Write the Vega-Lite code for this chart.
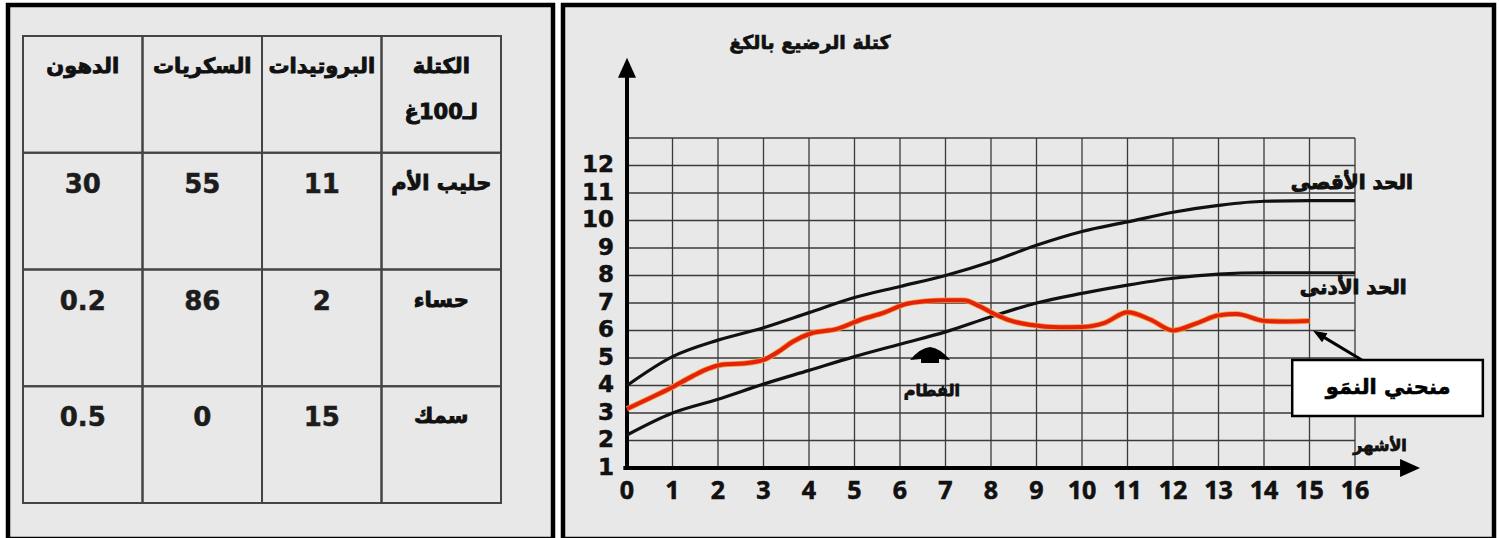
{
  "$schema": "https://vega.github.io/schema/vega-lite/v6.json",
  "background": "#ffffff",
  "padding": {"left": 5, "top": 2, "right": 5, "bottom": 2},
  "spacing": 4,
  "config": {"view": {"stroke": "#000000", "strokeWidth": 4.5, "fill": "#e8e8e8"}},
  "datasets": {
    "table": [
      {"r": "header", "c": "الدهون", "text": "الدهون"},
      {"r": "header", "c": "السكريات", "text": "السكريات"},
      {"r": "header", "c": "البروتيدات", "text": "البروتيدات"},
      {"r": "header", "c": "الغذاء", "text": "الكتلة\nلـ100غ"},
      {"r": "حليب الأم", "c": "الدهون", "text": "30"},
      {"r": "حليب الأم", "c": "السكريات", "text": "55"},
      {"r": "حليب الأم", "c": "البروتيدات", "text": "11"},
      {"r": "حليب الأم", "c": "الغذاء", "text": "حليب الأم"},
      {"r": "حساء", "c": "الدهون", "text": "0.2"},
      {"r": "حساء", "c": "السكريات", "text": "86"},
      {"r": "حساء", "c": "البروتيدات", "text": "2"},
      {"r": "حساء", "c": "الغذاء", "text": "حساء"},
      {"r": "سمك", "c": "الدهون", "text": "0.5"},
      {"r": "سمك", "c": "السكريات", "text": "0"},
      {"r": "سمك", "c": "البروتيدات", "text": "15"},
      {"r": "سمك", "c": "الغذاء", "text": "سمك"}
    ],
    "growth": [
      {"month": 0, "kg": 3.15}, {"month": 0.45, "kg": 3.5}, {"month": 0.95, "kg": 3.9},
      {"month": 1.45, "kg": 4.35}, {"month": 1.8, "kg": 4.62}, {"month": 2.1, "kg": 4.76},
      {"month": 2.55, "kg": 4.8}, {"month": 3.0, "kg": 4.93}, {"month": 3.3, "kg": 5.2},
      {"month": 3.65, "kg": 5.6}, {"month": 4.05, "kg": 5.9}, {"month": 4.6, "kg": 6.05},
      {"month": 5.15, "kg": 6.4}, {"month": 5.65, "kg": 6.65}, {"month": 6.1, "kg": 6.95},
      {"month": 6.6, "kg": 7.07}, {"month": 7.0, "kg": 7.1}, {"month": 7.4, "kg": 7.1},
      {"month": 7.75, "kg": 6.88}, {"month": 8.05, "kg": 6.62}, {"month": 8.45, "kg": 6.35},
      {"month": 8.9, "kg": 6.2}, {"month": 9.5, "kg": 6.12}, {"month": 10.0, "kg": 6.13},
      {"month": 10.5, "kg": 6.28}, {"month": 11.0, "kg": 6.66}, {"month": 11.5, "kg": 6.4},
      {"month": 12.0, "kg": 6.0}, {"month": 12.5, "kg": 6.25}, {"month": 13.0, "kg": 6.55},
      {"month": 13.4, "kg": 6.6}, {"month": 14.0, "kg": 6.35}, {"month": 14.5, "kg": 6.33},
      {"month": 15.0, "kg": 6.35}
    ],
    "limits": [
      {"series": "max", "month": 0, "kg": 4.0}, {"series": "max", "month": 1, "kg": 5.05},
      {"series": "max", "month": 2, "kg": 5.65}, {"series": "max", "month": 3, "kg": 6.1},
      {"series": "max", "month": 4, "kg": 6.65}, {"series": "max", "month": 5, "kg": 7.2},
      {"series": "max", "month": 6, "kg": 7.6}, {"series": "max", "month": 7, "kg": 8.0},
      {"series": "max", "month": 8, "kg": 8.5}, {"series": "max", "month": 9, "kg": 9.1},
      {"series": "max", "month": 10, "kg": 9.6}, {"series": "max", "month": 11, "kg": 9.95},
      {"series": "max", "month": 12, "kg": 10.3}, {"series": "max", "month": 13, "kg": 10.55},
      {"series": "max", "month": 14, "kg": 10.7}, {"series": "max", "month": 15, "kg": 10.72},
      {"series": "max", "month": 16, "kg": 10.72},
      {"series": "min", "month": 0, "kg": 2.2}, {"series": "min", "month": 1, "kg": 3.0},
      {"series": "min", "month": 2, "kg": 3.5}, {"series": "min", "month": 3, "kg": 4.05},
      {"series": "min", "month": 4, "kg": 4.55}, {"series": "min", "month": 5, "kg": 5.05},
      {"series": "min", "month": 6, "kg": 5.5}, {"series": "min", "month": 7, "kg": 5.95},
      {"series": "min", "month": 8, "kg": 6.5}, {"series": "min", "month": 9, "kg": 7.0},
      {"series": "min", "month": 10, "kg": 7.35}, {"series": "min", "month": 11, "kg": 7.65},
      {"series": "min", "month": 12, "kg": 7.9}, {"series": "min", "month": 13, "kg": 8.05},
      {"series": "min", "month": 14, "kg": 8.1}, {"series": "min", "month": 15, "kg": 8.1},
      {"series": "min", "month": 16, "kg": 8.1}
    ],
    "hgrid": [
      {"kg": 2}, {"kg": 3}, {"kg": 4}, {"kg": 5}, {"kg": 6}, {"kg": 7},
      {"kg": 8}, {"kg": 9}, {"kg": 10}, {"kg": 11}, {"kg": 12}, {"kg": 13}
    ],
    "vgrid": [
      {"month": 1}, {"month": 2}, {"month": 3}, {"month": 4}, {"month": 5}, {"month": 6},
      {"month": 7}, {"month": 8}, {"month": 9}, {"month": 10}, {"month": 11}, {"month": 12},
      {"month": 13}, {"month": 14}, {"month": 15}, {"month": 16}
    ],
    "xticks": [
      {"month": 0}, {"month": 1}, {"month": 2}, {"month": 3}, {"month": 4}, {"month": 5},
      {"month": 6}, {"month": 7}, {"month": 8}, {"month": 9}, {"month": 10}, {"month": 11},
      {"month": 12}, {"month": 13}, {"month": 14}, {"month": 15}, {"month": 16}
    ],
    "yticks": [
      {"kg": 1}, {"kg": 2}, {"kg": 3}, {"kg": 4}, {"kg": 5}, {"kg": 6},
      {"kg": 7}, {"kg": 8}, {"kg": 9}, {"kg": 10}, {"kg": 11}, {"kg": 12}
    ],
    "notes": [
      {"text": "كتلة الرضيع بالكغ", "month": 4.02, "kg": 16.45, "role": "title"},
      {"text": "الحد الأقصى", "month": 15.93, "kg": 11.36, "role": "limit"},
      {"text": "الحد الأدنى", "month": 15.96, "kg": 7.55, "role": "limit"},
      {"text": "الأشهر", "month": 16.55, "kg": 1.8, "role": "small"},
      {"text": "الفطام", "month": 6.7, "kg": 3.8, "role": "small"}
    ],
    "callout": [
      {"text": "منحني النمَو", "month": 16.73, "kg": 3.91}
    ]
  },
  "hconcat": [
    {
      "width": 545,
      "height": 534,
      "data": {"name": "table"},
      "layer": [
        {
          "mark": {"type": "rect", "filled": false, "stroke": "#454545", "strokeWidth": 2},
          "encoding": {
            "x": {"field": "c", "type": "nominal", "sort": ["الدهون", "السكريات", "البروتيدات", "الغذاء"], "scale": {"paddingInner": 0, "paddingOuter": 0.2803, "align": 0.224}, "axis": null},
            "y": {"field": "r", "type": "nominal", "sort": ["header", "حليب الأم", "حساء", "سمك"], "scale": {"paddingInner": 0, "paddingOuter": 0.2869, "align": 0.4627}, "axis": null}
          }
        },
        {
          "transform": [{"filter": "test(/^[0-9.]+$/, datum.text)"}],
          "mark": {"type": "text", "font": "DejaVu Sans", "fontWeight": "bold", "fontSize": 26, "baseline": "middle", "dy": 32, "fill": "#1c1c1c", "stroke": "#1c1c1c", "strokeWidth": 0.5},
          "encoding": {
            "x": {"field": "c", "type": "nominal", "sort": ["الدهون", "السكريات", "البروتيدات", "الغذاء"], "scale": {"paddingInner": 0, "paddingOuter": 0.2803, "align": 0.224}, "axis": null},
            "y": {"field": "r", "type": "nominal", "sort": ["header", "حليب الأم", "حساء", "سمك"], "scale": {"paddingInner": 0, "paddingOuter": 0.2869, "align": 0.4627}, "axis": null, "bandPosition": 0},
            "text": {"field": "text"}
          }
        },
        {
          "transform": [{"filter": "!test(/^[0-9.]+$/, datum.text)"}],
          "mark": {"type": "text", "font": "DejaVu Sans", "fontWeight": "bold", "fontSize": 21, "baseline": "top", "dy": 20, "lineBreak": "\n", "lineHeight": 46, "fill": "#111111", "stroke": "#111111", "strokeWidth": 0.9},
          "encoding": {
            "x": {"field": "c", "type": "nominal", "sort": ["الدهون", "السكريات", "البروتيدات", "الغذاء"], "scale": {"paddingInner": 0, "paddingOuter": 0.2803, "align": 0.224}, "axis": null},
            "y": {"field": "r", "type": "nominal", "sort": ["header", "حليب الأم", "حساء", "سمك"], "scale": {"paddingInner": 0, "paddingOuter": 0.2869, "align": 0.4627}, "axis": null, "bandPosition": 0},
            "text": {"field": "text"}
          }
        }
      ]
    },
    {
      "width": 931,
      "height": 534,
      "layer": [
        {
          "data": {"name": "hgrid"},
          "mark": {"type": "rule", "stroke": "#3a3a3a", "strokeWidth": 1.3},
          "encoding": {
            "y": {"field": "kg", "type": "quantitative", "axis": null},
            "x": {"datum": 0, "type": "quantitative", "axis": null},
            "x2": {"datum": 16}
          }
        },
        {
          "data": {"name": "vgrid"},
          "mark": {"type": "rule", "stroke": "#3a3a3a", "strokeWidth": 1.3},
          "encoding": {
            "x": {"field": "month", "type": "quantitative", "axis": null},
            "y": {"datum": 1, "type": "quantitative", "axis": null},
            "y2": {"datum": 13}
          }
        },
        {
          "data": {"values": [{}]},
          "mark": {"type": "rule", "stroke": "#000000", "strokeWidth": 4},
          "encoding": {
            "x": {"datum": 0, "type": "quantitative", "axis": null},
            "y": {"datum": 0.93, "type": "quantitative", "axis": null},
            "y2": {"datum": 15.3}
          }
        },
        {
          "data": {"values": [{}]},
          "mark": {"type": "rule", "stroke": "#000000", "strokeWidth": 4},
          "encoding": {
            "y": {"datum": 1, "type": "quantitative", "axis": null},
            "x": {"datum": -0.08, "type": "quantitative", "axis": null},
            "x2": {"datum": 17.0}
          }
        },
        {
          "data": {"values": [{}]},
          "mark": {"type": "point", "shape": "M0,-1L0.9,1L-0.9,1Z", "filled": true, "fill": "#000000", "size": 400, "opacity": 1, "strokeWidth": 0},
          "encoding": {
            "x": {"datum": 0, "type": "quantitative", "axis": null},
            "y": {"datum": 15.55, "type": "quantitative", "axis": null}
          }
        },
        {
          "data": {"values": [{}]},
          "mark": {"type": "point", "shape": "M1,0L-1,-0.9L-1,0.9Z", "filled": true, "fill": "#000000", "size": 400, "opacity": 1, "strokeWidth": 0},
          "encoding": {
            "x": {"datum": 17.21, "type": "quantitative", "axis": null},
            "y": {"datum": 1, "type": "quantitative", "axis": null}
          }
        },
        {
          "data": {"name": "xticks"},
          "mark": {"type": "text", "font": "Open Sans", "fontWeight": "bold", "fontSize": 25, "align": "center", "baseline": "middle", "dy": 23, "fill": "#111111", "stroke": "#111111", "strokeWidth": 0.6},
          "encoding": {
            "x": {"field": "month", "type": "quantitative", "axis": null},
            "y": {"datum": 1, "type": "quantitative", "axis": null},
            "text": {"field": "month", "type": "quantitative"}
          }
        },
        {
          "data": {"name": "yticks"},
          "mark": {"type": "text", "font": "DejaVu Sans", "fontWeight": "bold", "fontSize": 23, "align": "right", "baseline": "middle", "dx": -13, "fill": "#111111", "stroke": "#111111", "strokeWidth": 0.5},
          "encoding": {
            "x": {"datum": 0, "type": "quantitative", "axis": null},
            "y": {"field": "kg", "type": "quantitative", "axis": null},
            "text": {"field": "kg", "type": "quantitative"}
          }
        },
        {
          "data": {"name": "limits"},
          "mark": {"type": "line", "interpolate": "monotone", "stroke": "#111111", "strokeWidth": 3.2},
          "encoding": {
            "x": {"field": "month", "type": "quantitative", "axis": null},
            "y": {"field": "kg", "type": "quantitative", "axis": null},
            "detail": {"field": "series"}
          }
        },
        {
          "data": {"name": "growth"},
          "mark": {"type": "line", "interpolate": "monotone", "stroke": "#f49a2a", "strokeWidth": 5.6},
          "encoding": {
            "x": {"field": "month", "type": "quantitative", "axis": null},
            "y": {"field": "kg", "type": "quantitative", "axis": null}
          }
        },
        {
          "data": {"name": "growth"},
          "mark": {"type": "line", "interpolate": "monotone", "stroke": "#e4200f", "strokeWidth": 4},
          "encoding": {
            "x": {"field": "month", "type": "quantitative", "scale": {"domain": [-1.40659, 19.05495], "nice": false, "zero": false}, "axis": null},
            "y": {"field": "kg", "type": "quantitative", "scale": {"domain": [-1.58182, 17.83636], "nice": false, "zero": false}, "axis": null}
          }
        },
        {
          "data": {"name": "notes"},
          "transform": [{"filter": "datum.role === 'title'"}],
          "mark": {"type": "text", "font": "DejaVu Sans", "fontWeight": "bold", "fontSize": 19, "align": "center", "baseline": "middle", "fill": "#111111", "stroke": "#111111", "strokeWidth": 0.7},
          "encoding": {
            "x": {"field": "month", "type": "quantitative", "axis": null},
            "y": {"field": "kg", "type": "quantitative", "axis": null},
            "text": {"field": "text"}
          }
        },
        {
          "data": {"name": "notes"},
          "transform": [{"filter": "datum.role === 'limit'"}],
          "mark": {"type": "text", "font": "DejaVu Sans", "fontWeight": "bold", "fontSize": 20, "align": "center", "baseline": "middle", "fill": "#111111", "stroke": "#111111", "strokeWidth": 1},
          "encoding": {
            "x": {"field": "month", "type": "quantitative", "axis": null},
            "y": {"field": "kg", "type": "quantitative", "axis": null},
            "text": {"field": "text"}
          }
        },
        {
          "data": {"name": "notes"},
          "transform": [{"filter": "datum.role === 'small'"}],
          "mark": {"type": "text", "font": "DejaVu Sans", "fontWeight": "bold", "fontSize": 16, "align": "center", "baseline": "middle", "fill": "#111111", "stroke": "#111111", "strokeWidth": 0.8},
          "encoding": {
            "x": {"field": "month", "type": "quantitative", "axis": null},
            "y": {"field": "kg", "type": "quantitative", "axis": null},
            "text": {"field": "text"}
          }
        },
        {
          "data": {"values": [{}]},
          "mark": {"type": "point", "shape": "M-1,0.25Q-0.5,-0.35 0,-0.4Q0.5,-0.35 1,0.25L0.45,0.2L0.45,0.4L-0.45,0.4L-0.45,0.2Z", "filled": true, "fill": "#000000", "size": 1600, "opacity": 1, "strokeWidth": 0},
          "encoding": {
            "x": {"datum": 6.66, "type": "quantitative", "axis": null},
            "y": {"datum": 5.11, "type": "quantitative", "axis": null}
          }
        },
        {
          "data": {"values": [{}]},
          "mark": {"type": "rect", "fill": "#ffffff", "stroke": "#000000", "strokeWidth": 2.5},
          "encoding": {
            "x": {"datum": 14.62, "type": "quantitative", "axis": null},
            "x2": {"datum": 18.81},
            "y": {"datum": 2.89, "type": "quantitative", "axis": null},
            "y2": {"datum": 4.93}
          }
        },
        {
          "data": {"name": "callout"},
          "mark": {"type": "text", "font": "DejaVu Sans", "fontWeight": "bold", "fontSize": 21, "align": "center", "baseline": "middle", "fill": "#000000", "stroke": "#000000", "strokeWidth": 0.6},
          "encoding": {
            "x": {"field": "month", "type": "quantitative", "axis": null},
            "y": {"field": "kg", "type": "quantitative", "axis": null},
            "text": {"field": "text"}
          }
        },
        {
          "data": {"values": [{}]},
          "mark": {"type": "rule", "stroke": "#000000", "strokeWidth": 3},
          "encoding": {
            "x": {"datum": 16.15, "type": "quantitative", "axis": null},
            "y": {"datum": 4.93, "type": "quantitative", "axis": null},
            "x2": {"datum": 15.23},
            "y2": {"datum": 5.84}
          }
        },
        {
          "data": {"values": [{}]},
          "mark": {"type": "point", "shape": "M0,-1L0.65,0.7L-0.65,0.7Z", "filled": true, "fill": "#000000", "size": 256, "angle": 301, "opacity": 1, "strokeWidth": 0},
          "encoding": {
            "x": {"datum": 15.23, "type": "quantitative", "axis": null},
            "y": {"datum": 5.84, "type": "quantitative", "axis": null}
          }
        }
      ]
    }
  ]
}
